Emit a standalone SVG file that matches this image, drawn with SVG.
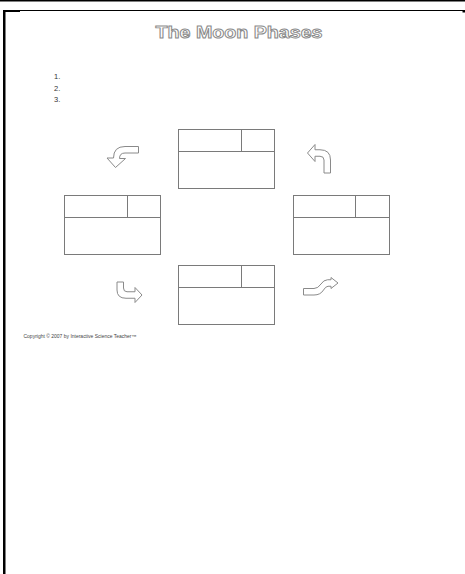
<svg xmlns="http://www.w3.org/2000/svg" width="465" height="574" viewBox="0 0 465 574">
<style>
.bx{fill:#fff;stroke:#7a7a7a;stroke-width:1}
.ln{stroke:#7a7a7a;stroke-width:1}
.ar{fill:#fff;stroke:#8a8a8a;stroke-width:1;stroke-linejoin:round}
.num{font-family:"Liberation Sans",Arial,sans-serif;font-size:7.5px;fill:#333}
</style>
<rect width="465" height="574" fill="#fff"/>
<g id="frame">
<rect x="0" y="0" width="465" height="1.5" fill="#000"/>
<rect x="3" y="10" width="462" height="1" fill="#000"/>
<rect x="3" y="10" width="17" height="2" fill="#000"/>
<rect x="3" y="10" width="2.5" height="564" fill="#000"/>
<rect x="462.5" y="10" width="2.5" height="2.5" fill="#000"/>
</g>
<g id="title">
<text x="155.5" y="38" textLength="167" lengthAdjust="spacingAndGlyphs" font-family="'Liberation Sans',Arial,sans-serif" font-weight="bold" font-size="16.5" fill="#fff" stroke="#8a8a8a" stroke-width="0.9">The Moon Phases</text>
</g>
<g id="list">
<text class="num" x="54" y="79">1.</text>
<text class="num" x="54" y="91">2.</text>
<text class="num" x="54" y="102">3.</text>
</g>
<g id="box-top">
<rect class="bx" x="178.5" y="129.5" width="96" height="59"/>
<line class="ln" x1="178.5" y1="151.5" x2="274.5" y2="151.5"/>
<line class="ln" x1="241.5" y1="129.5" x2="241.5" y2="151.5"/>
</g>
<g id="box-left">
<rect class="bx" x="64.5" y="195.5" width="96" height="59"/>
<line class="ln" x1="64.5" y1="217.5" x2="160.5" y2="217.5"/>
<line class="ln" x1="127.5" y1="195.5" x2="127.5" y2="217.5"/>
</g>
<g id="box-right">
<rect class="bx" x="293.5" y="195.5" width="96" height="59"/>
<line class="ln" x1="293.5" y1="217.5" x2="389.5" y2="217.5"/>
<line class="ln" x1="355.5" y1="195.5" x2="355.5" y2="217.5"/>
</g>
<g id="box-bottom">
<rect class="bx" x="178.5" y="265.5" width="96" height="59"/>
<line class="ln" x1="178.5" y1="287.5" x2="274.5" y2="287.5"/>
<line class="ln" x1="241.5" y1="265.5" x2="241.5" y2="287.5"/>
</g>
<g id="connectors">
<path class="ar" d="M138.5,146.5 L125,146.5 Q113.5,146.5 113.5,158 L107,158 L115.5,167.5 L125.5,158.5 L119.5,158.5 Q119.5,153 125,153 L138.5,153 Z"/>
<path class="ar" d="M330.5,173 L330.5,160 Q330.5,149.75 320,149.75 L315,149.75 L315,144.5 L307.5,153 L315,161.5 L315,156.25 L320,156.25 Q324,156.25 324,160 L324,173 Z"/>
<path class="ar" d="M117,282 L117,290 Q117,298.25 126,298.25 L135,298.25 L135,302.5 L142,295 L135,287.5 L135,291.75 L127,291.75 Q123.5,291.75 123.5,288 L123.5,282 Z"/>
<path class="ar" d="M303.5,288.5 L314,288.5 Q318,288.5 321,284 Q323.5,280 327.5,279.75 L331,279.75 L331,277.5 L338,283 L331,288.5 L331,286.25 L328,286.25 Q325.5,286.5 323.5,290 Q320.5,295 314,295 L303.5,295 Z"/>
</g>
<g id="copyright">
<text x="23.5" y="337.5" textLength="113" lengthAdjust="spacingAndGlyphs" font-family="'Liberation Sans',Arial,sans-serif" font-size="4.5" fill="#444">Copyright © 2007 by Interactive Science Teacher™</text>
</g>
</svg>
